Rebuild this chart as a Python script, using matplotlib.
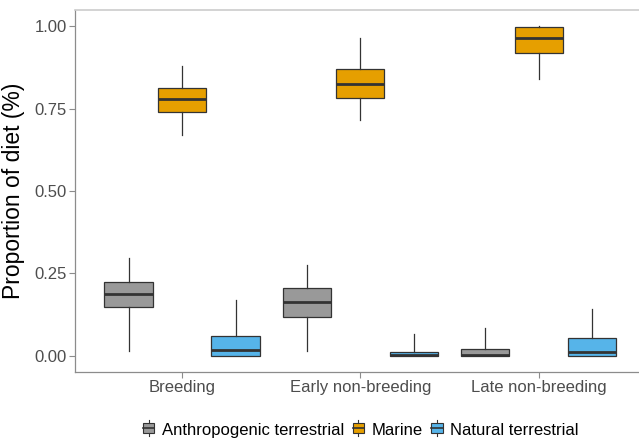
import matplotlib
matplotlib.use("Agg")
import matplotlib.pyplot as plt
from matplotlib.legend_handler import HandlerBase
from matplotlib.patches import Rectangle
from matplotlib.lines import Line2D

plt.rcParams['font.family'] = ['Liberation Sans', 'DejaVu Sans']

seasons = ["Breeding", "Early non-breeding", "Late non-breeding"]
sources = ["Anthropogenic terrestrial", "Marine", "Natural terrestrial"]
colors = ["#999999", "#E69F00", "#56B4E9"]

# five-number summaries per source, one value per season
# (whisker low, q1, median, q3, whisker high)
anthro_whislo = [0.015, 0.013, 0.0]
anthro_q1 = [0.146, 0.117, 0.0]
anthro_med = [0.188, 0.164, 0.003]
anthro_q3 = [0.223, 0.205, 0.021]
anthro_whishi = [0.296, 0.274, 0.083]

marine_whislo = [0.670, 0.715, 0.840]
marine_q1 = [0.740, 0.783, 0.920]
marine_med = [0.780, 0.825, 0.966]
marine_q3 = [0.814, 0.872, 0.997]
marine_whishi = [0.880, 0.965, 1.000]

natural_whislo = [0.0, 0.0, 0.0]
natural_q1 = [0.0, 0.0, 0.0]
natural_med = [0.016, 0.003, 0.010]
natural_q3 = [0.060, 0.011, 0.052]
natural_whishi = [0.168, 0.064, 0.142]

series = [
    (anthro_whislo, anthro_q1, anthro_med, anthro_q3, anthro_whishi),
    (marine_whislo, marine_q1, marine_med, marine_q3, marine_whishi),
    (natural_whislo, natural_q1, natural_med, natural_q3, natural_whishi),
]

fig = plt.figure(figsize=(6.39, 4.41), dpi=100)
ax = fig.add_axes([0.1174, 0.1565, 0.893, 0.821])

offsets = [-0.3, 0.0, 0.3]
edge = "#333333"
for k, (lo, q1, med, q3, hi) in enumerate(series):
    stats = []
    for i in range(len(seasons)):
        stats.append(dict(whislo=lo[i], q1=q1[i], med=med[i], q3=q3[i],
                          whishi=hi[i], fliers=[]))
    pos = [i + 1 + offsets[k] for i in range(len(seasons))]
    ax.bxp(stats, positions=pos, widths=0.27, patch_artist=True,
           showcaps=False, showfliers=False, manage_ticks=False,
           boxprops=dict(facecolor=colors[k], edgecolor=edge, linewidth=0.9),
           whiskerprops=dict(color=edge, linewidth=0.9),
           medianprops=dict(color=edge, linewidth=2.0, solid_capstyle='butt'))

ax.set_xlim(0.4, 3.6)
ax.set_ylim(-0.05, 1.05)
ax.set_xticks([1, 2, 3])
ax.set_xticklabels(seasons)
ax.set_yticks([0, 0.25, 0.5, 0.75, 1.0])
ax.set_yticklabels(["0.00", "0.25", "0.50", "0.75", "1.00"])
ax.tick_params(axis='both', colors='#8c8c8c', labelcolor='#4d4d4d',
               labelsize=12, length=4, width=0.8, pad=2)
ax.set_ylabel("Proportion of diet (%)", fontsize=16.5, color='black', labelpad=7)

for side in ['left', 'bottom']:
    ax.spines[side].set_color('#8c8c8c')
    ax.spines[side].set_linewidth(0.9)
ax.spines['top'].set_color('#cccccc')
ax.spines['top'].set_linewidth(1.2)
ax.spines['right'].set_visible(False)


class MiniBox(HandlerBase):
    def create_artists(self, legend, orig_handle, xdescent, ydescent,
                       width, height, fontsize, trans):
        fc = orig_handle.get_facecolor()
        w = width * 0.75
        x0 = xdescent + (width - w) / 2
        rect = Rectangle((x0, height * 0.15), w, height * 0.7, facecolor=fc,
                         edgecolor=edge, linewidth=0.8, transform=trans)
        mid = Line2D([x0, x0 + w], [height * 0.5] * 2, color=edge,
                     linewidth=1.2, transform=trans)
        cx = x0 + w / 2
        wh1 = Line2D([cx, cx], [height * 0.85, height * 1.05], color=edge,
                     linewidth=0.8, transform=trans)
        wh2 = Line2D([cx, cx], [-height * 0.05, height * 0.15], color=edge,
                     linewidth=0.8, transform=trans)
        return [rect, mid, wh1, wh2]


handles = [Rectangle((0, 0), 1, 1, facecolor=c) for c in colors]
fig.legend(handles, sources, loc='center', bbox_to_anchor=(360 / 639, 1 - 430 / 441),
           ncol=3, frameon=False, fontsize=12, handlelength=0.9,
           handleheight=0.9, handletextpad=0.35, columnspacing=0.4,
           handler_map={Rectangle: MiniBox()})

fig.savefig("out.png", dpi=100)
